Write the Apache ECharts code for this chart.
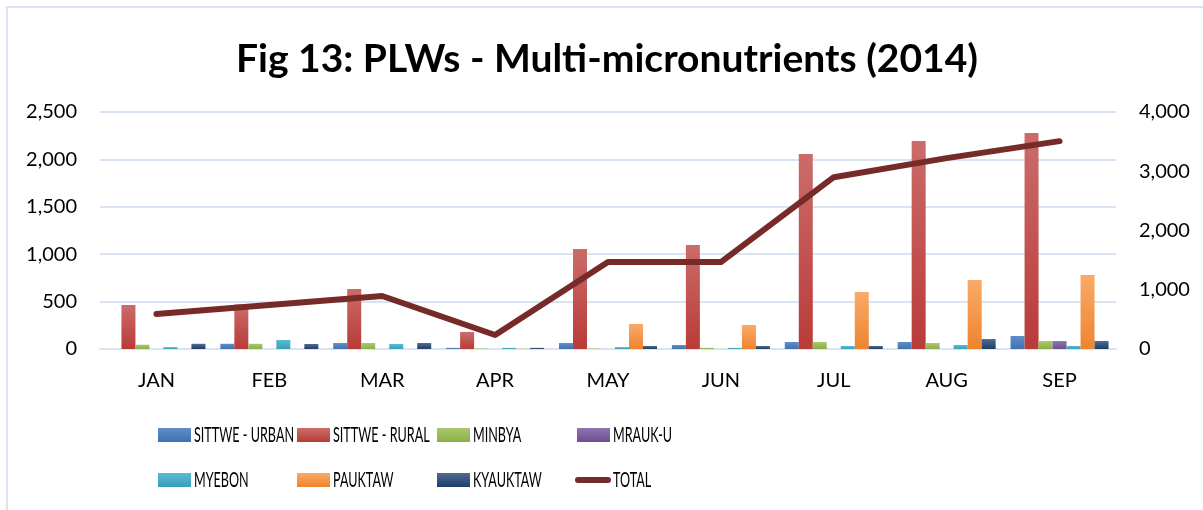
<!DOCTYPE html>
<html>
<head>
<meta charset="utf-8">
<script src="https://cdn.jsdelivr.net/npm/echarts@6/dist/echarts.min.js"></script>
<style>
  html, body { margin: 0; padding: 0; background: #fff; }
  #chart { width: 1203px; height: 510px; }
</style>
</head>
<body>
<div id="chart"></div>
<script>
// Values
const months = ['JAN', 'FEB', 'MAR', 'APR', 'MAY', 'JUN', 'JUL', 'AUG', 'SEP'];
const sittweUrban = [0, 55, 63, 12, 63, 42, 74, 74, 137];
const sittweRural = [464, 470, 633, 180, 1055, 1097, 2057, 2194, 2279];
const minbya = [45, 55, 63, 5, 5, 12, 74, 63, 84];
const mraukU = [0, 0, 0, 0, 0, 0, 0, 0, 84];
const myebon = [20, 95, 53, 12, 20, 12, 32, 42, 32];
const pauktaw = [0, 0, 0, 3, 264, 253, 601, 728, 781];
const kyauktaw = [55, 53, 63, 12, 32, 32, 32, 105, 84];
const total = [590, 742, 894, 236, 1467, 1467, 2900, 3221, 3508];

const leftTicks = [0, 500, 1000, 1500, 2000, 2500];
const rightTicks = [0, 1000, 2000, 3000, 4000];

// legend order, laid out 4 per row as in the picture
const legendNames = ['SITTWE - URBAN', 'SITTWE - RURAL', 'MINBYA', 'MRAUK-U',
  'MYEBON', 'PAUKTAW', 'KYAUKTAW', 'TOTAL'];

const chart = echarts.init(document.getElementById('chart'));

// Excel-like vertical gradient for bars
const grad = (top, bottom) => new echarts.graphic.LinearGradient(0, 0, 0, 1, [
  { offset: 0, color: top },
  { offset: 1, color: bottom }
]);

const fmt = v => v.toLocaleString('en-US');

const bar = (name, data, top, bottom) => ({
  name: name,
  type: 'bar',
  data: data,
  barWidth: 14,
  barGap: '0%',
  itemStyle: { color: grad(top, bottom) }
});

// one legend per entry so the columns line up like the Excel legend
const colX = [158, 297, 437, 577];
const rowY = [435, 480];
const legends = legendNames.map((n, i) => {
  const isLine = n === 'TOTAL';
  return {
    left: isLine ? colX[i % 4] - 2 : colX[i % 4],
    top: rowY[Math.floor(i / 4)] - (isLine ? 3 : 7),
    padding: 0,
    itemWidth: isLine ? 36 : 33,
    itemHeight: isLine ? 6 : 14,
    formatter: () => '',
    textStyle: { fontSize: 1 },
    data: [isLine
      ? { name: n, icon: 'path://M3,0 L33,0 A3,3 0 0 1 33,6 L3,6 A3,3 0 0 1 3,0 Z' }
      : { name: n, icon: 'rect' }]
  };
});
// legend text is condensed in the picture, so it is drawn as scaled text
const legendText = legendNames.map((n, i) => ({
  type: 'text',
  x: colX[i % 4] + 36,
  y: rowY[Math.floor(i / 4)],
  scaleX: 0.6,
  z: 100,
  silent: true,
  style: {
    text: n,
    font: '21px Lato',
    fill: '#000',
    verticalAlign: 'middle'
  }
}));

const option = {
  backgroundColor: '#fff',
  animation: false,
  title: {
    text: 'Fig 13: PLWs - Multi-micronutrients (2014)',
    left: 231,
    top: 31,
    textStyle: { fontFamily: 'Lato', fontWeight: 'bold', fontSize: 39, lineHeight: 46, color: '#000' }
  },
  graphic: [{
    type: 'rect',
    shape: { x: 7, y: 7, width: 1300, height: 600 },
    style: { fill: 'none', stroke: '#D9E3F2', lineWidth: 2 },
    silent: true
  }].concat(legendText),
  grid: { left: 100, right: 87, top: 112, bottom: 161, containLabel: false },
  legend: legends,
  xAxis: {
    type: 'category',
    data: months,
    axisLine: { show: true, lineStyle: { color: '#D9E3F2', width: 2 } },
    axisTick: { show: false },
    axisLabel: { fontFamily: 'Lato', fontSize: 20, color: '#000', margin: 22 }
  },
  yAxis: [{
    type: 'value',
    min: leftTicks[0],
    max: leftTicks[leftTicks.length - 1],
    interval: 500,
    axisLine: { show: false },
    axisTick: { show: false },
    splitLine: { lineStyle: { color: '#D9E3F2', width: 2 } },
    axisLabel: { fontFamily: 'Lato', fontSize: 20, color: '#000', margin: 23, formatter: fmt }
  }, {
    type: 'value',
    min: rightTicks[0],
    max: rightTicks[rightTicks.length - 1],
    interval: 1000,
    axisLine: { show: false },
    axisTick: { show: false },
    splitLine: { show: false },
    axisLabel: { fontFamily: 'Lato', fontSize: 20, color: '#000', margin: 23, formatter: fmt }
  }],
  series: [
    bar('SITTWE - URBAN', sittweUrban, '#5F8DC9', '#3F72B3'),
    bar('SITTWE - RURAL', sittweRural, '#CB6C69', '#B93B38'),
    bar('MINBYA', minbya, '#AAC76C', '#8AAF47'),
    bar('MRAUK-U', mraukU, '#8E74B1', '#6D4F91'),
    bar('MYEBON', myebon, '#5CB9D2', '#37A0BB'),
    bar('PAUKTAW', pauktaw, '#FAAA68', '#EE842E'),
    bar('KYAUKTAW', kyauktaw, '#4D6C94', '#1F3D66'),
    {
      name: 'TOTAL',
      type: 'line',
      yAxisIndex: 1,
      data: total,
      symbol: 'none',
      lineStyle: { color: '#772B29', width: 6, cap: 'round', join: 'round' },
      itemStyle: { color: '#772B29' }
    }
  ]
};

chart.setOption(option);
</script>
</body>
</html>
